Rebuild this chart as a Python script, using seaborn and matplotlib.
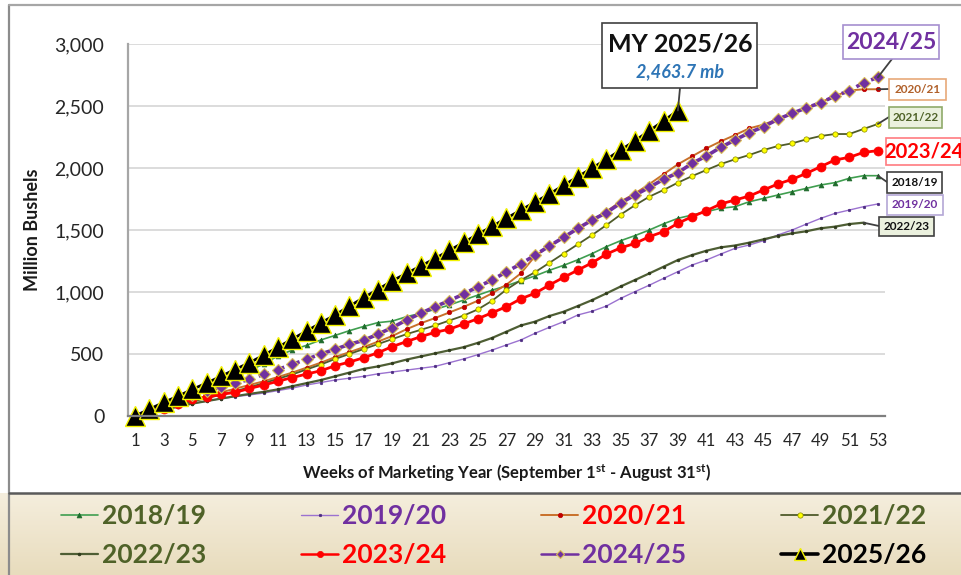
import numpy as np
import pandas as pd
import matplotlib
matplotlib.use("Agg")
import matplotlib.pyplot as plt
from matplotlib.patches import Rectangle
from matplotlib.lines import Line2D
from matplotlib.ticker import FuncFormatter
import seaborn as sns

# ---------------- data ----------------
weeks = list(range(1, 54))
s2018 = [0, 45, 90, 135, 180, 225, 270, 315, 365, 420, 484, 532, 570, 613, 650, 688, 722, 753, 765, 801,
         828, 860, 895, 935, 975, 1015, 1050, 1091, 1130, 1175, 1215, 1260, 1310, 1366, 1414, 1455, 1500,
         1550, 1594, 1621, 1648, 1675, 1688, 1728, 1755, 1782, 1809, 1836, 1863, 1882, 1917, 1938, 1938]
s2019 = [0, 25, 50, 75, 100, 120, 140, 155, 170, 185, 205, 225, 250, 270, 290, 305, 320, 340, 355, 370,
         385, 400, 430, 460, 495, 532, 573, 613, 667, 715, 761, 815, 845, 887, 949, 1003, 1055, 1110,
         1164, 1218, 1258, 1306, 1352, 1379, 1414, 1460, 1500, 1548, 1594, 1634, 1661, 1688, 1710]
s2020 = [0, 30, 60, 95, 125, 160, 190, 220, 250, 280, 315, 350, 390, 430, 475, 515, 555, 600, 645, 700,
         748, 790, 835, 880, 930, 990, 1060, 1150, 1290, 1370, 1440, 1510, 1580, 1650, 1730, 1795, 1870,
         1950, 2030, 2095, 2159, 2215, 2266, 2320, 2350, 2395, 2440, 2485, 2530, 2580, 2625, 2635, 2635]
s2021 = [0, 25, 55, 85, 115, 145, 170, 200, 232, 265, 300, 335, 375, 415, 460, 500, 540, 580, 620, 660,
         695, 730, 770, 810, 860, 930, 1020, 1095, 1160, 1235, 1310, 1385, 1460, 1540, 1625, 1700, 1769,
         1823, 1882, 1935, 1984, 2032, 2070, 2105, 2145, 2177, 2199, 2231, 2258, 2274, 2274, 2315, 2355]
s2022 = [0, 25, 50, 75, 100, 120, 140, 160, 178, 195, 215, 240, 265, 290, 320, 350, 380, 400, 425, 455,
         480, 505, 530, 555, 590, 630, 680, 730, 761, 806, 841, 887, 935, 989, 1045, 1097, 1150, 1204,
         1258, 1298, 1333, 1360, 1375, 1398, 1425, 1452, 1473, 1490, 1514, 1527, 1548, 1559]
s2023 = [0, 30, 60, 95, 140, 150, 175, 190, 222, 250, 280, 310, 338, 365, 405, 435, 470, 510, 560, 600,
         640, 675, 700, 742, 785, 833, 882, 945, 990, 1056, 1118, 1177, 1236, 1306, 1356, 1392, 1446,
         1487, 1554, 1608, 1656, 1710, 1742, 1774, 1823, 1871, 1909, 1957, 2011, 2065, 2086, 2126, 2140]
s2024 = [0, 45, 90, 130, 170, 205, 232, 263, 296, 335, 375, 417, 457, 500, 538, 578, 610, 660, 713, 774,
         828, 882, 930, 984, 1043, 1097, 1164, 1226, 1298, 1371, 1441, 1513, 1581, 1640, 1718, 1782, 1844,
         1909, 1962, 2038, 2097, 2167, 2226, 2285, 2333, 2393, 2441, 2485, 2527, 2580, 2623, 2688, 2731]
s2025 = [0, 55, 110, 160, 215, 265, 320, 375, 430, 490, 555, 620, 685, 750, 815, 885, 955, 1020, 1090,
         1150, 1210, 1270, 1335, 1400, 1465, 1530, 1595, 1660, 1725, 1790, 1860, 1930, 2000, 2070, 2145,
         2220, 2300, 2380, 2463.7]

seasons = ["2018/19", "2019/20", "2020/21", "2021/22", "2022/23", "2023/24", "2024/25", "2025/26"]
series = [s2018, s2019, s2020, s2021, s2022, s2023, s2024, s2025]
yticks = [0, 500, 1000, 1500, 2000, 2500, 3000]
xticks = list(range(1, 54, 2))

styles = {
    "2018/19": dict(color="#3f9e4f", lw=1.2, marker="^", ms=3.5, mfc="#1f6b2c", mec="#1f6b2c", mew=0.5),
    "2019/20": dict(color="#9b72d0", lw=1.0, marker="o", ms=1.8, mfc="#4b2a80", mec="#4b2a80", mew=0.5),
    "2020/21": dict(color="#c8702a", lw=1.4, marker="o", ms=3.2, mfc="#c00000", mec="#c00000", mew=0.5),
    "2021/22": dict(color="#4f5b2a", lw=1.3, marker="o", ms=3.8, mfc="#ffff00", mec="#8a8a00", mew=0.5),
    "2022/23": dict(color="#4e5e34", lw=1.6, marker="o", ms=2.0, mfc="#2f3a1c", mec="#2f3a1c", mew=0.5),
    "2023/24": dict(color="#ff0000", lw=2.0, marker="o", ms=6.5, mfc="#ff0000", mec="#ff0000", mew=0.5),
    "2024/25": dict(color="#7030a0", lw=2.6, marker="D", ms=6.0, mfc="#7030a0", mec="#d8bb55", mew=0.8,
                    ls=(0, (3, 1.5))),
    "2025/26": dict(color="#000000", lw=2.0, marker="^", ms=14, mfc="#000000", mec="#f2f200", mew=1.0),
}

label_colors = {"2018/19": "#4f6228", "2019/20": "#7030a0", "2020/21": "#ff0000", "2021/22": "#4f6228",
                "2022/23": "#4f6228", "2023/24": "#ff0000", "2024/25": "#7030a0", "2025/26": "#000000"}

# ---------------- figure ----------------
sns.set_style("white")
plt.rcParams["font.family"] = ["Lato", "DejaVu Sans"]
plt.rcParams["mathtext.fontset"] = "custom"
plt.rcParams["mathtext.rm"] = "Lato"
plt.rcParams["mathtext.bf"] = "Lato:bold"
plt.rcParams["mathtext.it"] = "Lato:italic"

W, H = 962, 575
fig = plt.figure(figsize=(W / 100, H / 100), dpi=100)
fig.patch.set_facecolor("white")


def P(x, y):
    return (x / W, 1 - y / H)


# legend band background (gradient)
band_top = 493
ax_bg = fig.add_axes([0, 0, 1, (H - band_top) / H], zorder=-5)
grad = np.linspace(0, 1, 100).reshape(-1, 1)
cmap = matplotlib.colors.LinearSegmentedColormap.from_list("beige", ["#f5eedd", "#e8dcbd"])
ax_bg.imshow(grad, aspect="auto", cmap=cmap, extent=[0, 1, 0, 1], origin="upper")
ax_bg.set_axis_off()

# main axes
ax = fig.add_axes([128 / W, 1 - 416 / H, (885 - 128) / W, (416 - 44) / H])
frames = []
for name, vals in zip(seasons, series):
    frames.append(pd.DataFrame({"week": weeks[:len(vals)], "value": vals, "season": name}))
df = pd.concat(frames, ignore_index=True)

for name in seasons:
    st = styles[name]
    sub = df[df["season"] == name]
    sns.lineplot(data=sub, x="week", y="value", ax=ax, legend=False,
                 color=st["color"], linewidth=st["lw"], linestyle=st.get("ls", "-"),
                 marker=st["marker"], markersize=st["ms"], markerfacecolor=st["mfc"],
                 markeredgecolor=st["mec"], markeredgewidth=st["mew"], clip_on=False,
                 estimator=None, sort=False)

ax.set_xlim(0.5, 53.5)
ax.set_ylim(0, 3000)
ax.set_xticks(xticks)
ax.set_yticks(yticks)
ax.yaxis.set_major_formatter(FuncFormatter(lambda v, p: f"{int(v):,}"))
ax.tick_params(axis="y", length=0, pad=17, labelsize=14, labelcolor="#262626")
ax.tick_params(axis="x", length=0, pad=12, labelsize=12, labelcolor="#262626")
ax.grid(axis="y", color="#d9d9d9", lw=1.3)
ax.grid(axis="x", visible=False)
ax.set_axisbelow(True)
for s in ["top", "right"]:
    ax.spines[s].set_visible(False)
ax.spines["left"].set_color("#a6a6a6")
ax.spines["left"].set_linewidth(1.6)
ax.spines["bottom"].set_color("#7f7f7f")
ax.spines["bottom"].set_linewidth(1.6)

ax.set_ylabel("Million Bushels", fontsize=13, fontweight="bold", color="#1a1a1a")
ax.yaxis.set_label_coords(-(128 - 41) / (885 - 128), 0.5)
ax.set_xlabel(r"Weeks of Marketing Year (September 1$^{\mathbf{st}}$ - August 31$^{\mathbf{st}}$)",
              fontsize=12, fontweight="bold", color="#1a1a1a")
ax.xaxis.set_label_coords(0.5, -(462 - 416) / (416 - 44))

# outer frame
fig.add_artist(Line2D([P(9, 0)[0], P(9, 0)[0]], [0, P(0, 5)[1]], color="#8c8c8c", lw=1.6,
                      transform=fig.transFigure))
fig.add_artist(Line2D([P(9, 5)[0], 1], [P(0, 5)[1], P(0, 5)[1]], color="#a6a6a6", lw=1.6,
                      transform=fig.transFigure))
fig.add_artist(Line2D([P(9, 0)[0], 1], [P(0, band_top)[1]] * 2, color="#5a5a5a", lw=1.8,
                      transform=fig.transFigure))


# ---------------- annotation boxes ----------------
def box(x0, y0, x1, y1, edge, face="white", lw=1.2):
    xa, ya = P(x0, y1)
    r = Rectangle((xa, ya), (x1 - x0) / W, (y1 - y0) / H, transform=fig.transFigure,
                  facecolor=face, edgecolor=edge, lw=lw, zorder=10)
    fig.add_artist(r)


def label(x, y, text, color, size, **kw):
    fig.text(*P(x, y), text, color=color, fontsize=size, ha="center", va="center",
             fontweight="bold", zorder=11, **kw)


def connector(week, value, px, py, color="#404040"):
    ax.annotate("", xy=(week, value), xycoords="data", xytext=P(px, py),
                textcoords="figure fraction",
                arrowprops=dict(arrowstyle="-", color=color, lw=1.3, shrinkA=0, shrinkB=0),
                zorder=9, annotation_clip=False)


# MY 2025/26
connector(len(s2025), s2025[-1], 680, 88)
box(602, 23, 757, 88, "#404040")
label(680, 44, "MY 2025/26", "#111111", 18)
label(680, 72, "2,463.7 mb", "#2e75b6", 13, style="italic")

# 2024/25
connector(53, s2024[-1], 892, 59)
box(843, 25, 939, 59, "#a58fd0")
label(891, 42, "2024/25", "#7030a0", 16.5)

# 2020/21
connector(53, s2020[-1], 889, 89)
box(889, 79, 946, 100, "#e8a979")
label(917.5, 89.5, "2020/21", "#b0602a", 8.5)

# 2021/22
connector(53, s2021[-1], 889, 117)
box(889, 107, 942, 128, "#8faa6a", face="#ebf1de")
label(915.5, 117.5, "2021/22", "#4f6228", 8.5)

# 2023/24
box(886, 138, 961, 165, "#ff7c80")
label(923.5, 151.5, "2023/24", "#ff0000", 14.5)

# 2018/19
connector(53, s2018[-1], 887, 182)
box(887, 172, 942, 193, "#404040")
label(914.5, 182.5, "2018/19", "#111111", 8.5)

# 2019/20
box(887, 195, 943, 215, "#b4a7d6")
label(915, 205, "2019/20", "#7030a0", 8.5)

# 2022/23
connector(len(s2022), s2022[-1], 879, 226)
box(879, 217, 934, 236, "#404040", face="#ebf1de")
label(906.5, 226.5, "2022/23", "#111111", 8.5)

# ---------------- legend ----------------
handles = []
for name in seasons:
    st = styles[name]
    ms = 9 if name == "2025/26" else min(st["ms"], 4.5)
    lw = 2.6 if name == "2025/26" else min(st["lw"], 1.8)
    handles.append(Line2D([], [], color=st["color"], lw=lw, ls="-", marker=st["marker"], ms=ms,
                          mfc=st["mfc"], mec=st["mec"], mew=st["mew"]))
# legend fills column-wise; reorder so that rows read left to right
order = [0, 4, 1, 5, 2, 6, 3, 7]
leg = fig.legend([handles[i] for i in order], [seasons[i] for i in order], ncol=4,
                 loc="upper left", bbox_to_anchor=P(61, 504), borderaxespad=0.0,
                 frameon=False, handlelength=1.4, handletextpad=0.15,
                 columnspacing=3.6, labelspacing=0.58, borderpad=0.0,
                 prop={"weight": "bold", "size": 19})
for t in leg.get_texts():
    t.set_color(label_colors[t.get_text()])

fig.savefig("out.png", dpi=100)
